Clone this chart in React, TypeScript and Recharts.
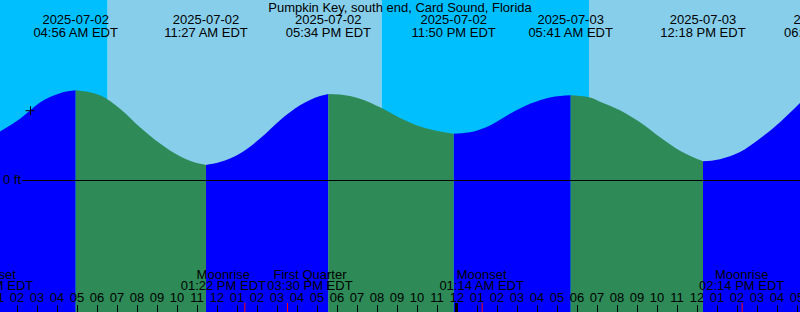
import React from "react";
import {
  ComposedChart,
  Area,
  XAxis,
  YAxis,
  ReferenceArea,
  ReferenceLine,
  ReferenceDot,
} from "recharts";

document.body.style.margin = "0";

const title = "Pumpkin Key, south end, Card Sound, Florida";

// hours counted from 2025-07-02 00:00 EDT
const startHour = 1.15;
const endHour = 41.15;

const tideHours = [
  1.15, 2.15, 3.15, 4.15, 4.933, 6.15, 7.15, 8.15, 9.15, 10.15, 11.15, 11.45,
  12.15, 13.15, 14.15, 15.15, 16.15, 17.15, 17.567, 18.15, 19.15, 20.15, 21.15,
  22.15, 23.15, 23.833, 24.65, 25.65, 26.65, 27.65, 28.65, 29.683, 30.65, 31.15,
  32.15, 33.15, 34.15, 35.15, 36.3, 37.15, 38.15, 39.15, 40.15, 41.15,
];
const tideFeet = [
  0.69, 0.87, 1.1, 1.23, 1.27, 1.2, 1.01, 0.75, 0.52, 0.34, 0.235, 0.22, 0.26,
  0.38, 0.59, 0.85, 1.06, 1.19, 1.22, 1.21, 1.15, 1.03, 0.88, 0.76, 0.69, 0.66,
  0.68, 0.775, 0.94, 1.08, 1.17, 1.2, 1.17, 1.11, 0.99, 0.82, 0.61, 0.42, 0.27,
  0.3, 0.4, 0.59, 0.82, 1.09,
];

const extremeHours = [4.933, 11.45, 17.567, 23.833, 29.683, 36.3, 42.483];
const extremeKinds = ["high", "low", "high", "low", "high", "low", "high"];
const extremeDates = [
  "2025-07-02",
  "2025-07-02",
  "2025-07-02",
  "2025-07-02",
  "2025-07-03",
  "2025-07-03",
  "2025-07-03",
];
const extremeTimes = [
  "04:56 AM EDT",
  "11:27 AM EDT",
  "05:34 PM EDT",
  "11:50 PM EDT",
  "05:41 AM EDT",
  "12:18 PM EDT",
  "06:29 PM EDT",
];

// sunrise, sunset, sunrise
const sunHours = [6.533, 20.233, 30.6];

const moonHours = [0.7, 13.367, 15.5, 25.233, 38.233];
const moonEvents = ["Moonset", "Moonrise", "First Quarter", "Moonset", "Moonrise"];
const moonTimes = [
  "12:42 AM EDT",
  "01:22 PM EDT",
  "03:30 PM EDT",
  "01:14 AM EDT",
  "02:14 PM EDT",
];

const hourTicks = Array.from({ length: 42 }, (_, i) => i + 1);

const nowHour = 2.65;
const nowFeet = 0.99;

// vertical scale: 71 px per foot, 0 ft on row 180
const yMax = 180.5 / 71;
const yMin = -131.5 / 71;
const zeroLineStart = 2.25;
const moonLabelNudge = [0, -21, 23, 0, 0];

const NIGHT = "#00BFFF";
const DAY = "#87CEEB";
const FLOOD = "#0000FF";
const EBB = "#2E8B57";
const FONT = "'Liberation Sans', Arial, sans-serif";

const rows = tideHours.map((t, i) => {
  const ft = tideFeet[i];
  const atExtreme = extremeHours.some((e) => Math.abs(e - t) < 1e-6);
  const next = extremeHours.findIndex((e) => e > t + 1e-6);
  const rising = next >= 0 ? extremeKinds[next] === "high" : false;
  return {
    t,
    flood: rising || atExtreme ? ft : null,
    ebb: !rising || atExtreme ? ft : null,
  };
});

const skyBands = [
  { x1: startHour, x2: sunHours[0], fill: NIGHT },
  { x1: sunHours[0], x2: sunHours[1], fill: DAY },
  { x1: sunHours[1], x2: sunHours[2], fill: NIGHT },
  { x1: sunHours[2], x2: endHour, fill: DAY },
];

const textStyle = { fontFamily: FONT, fontSize: 13, fill: "#000" };

const hourLabel = (h: number) => {
  const v = h % 12 === 0 ? 12 : h % 12;
  return String(v).padStart(2, "0");
};

const hourTick = (h: number) => (p: any) => {
  const x = p.cx;
  return (
    <g>
      {h % 24 === 0 ? (
        <rect x={x - 2} y={303} width={3} height={9} fill="#000" />
      ) : (
        <line x1={x + 0.5} x2={x + 0.5} y1={305} y2={312} stroke="#000" />
      )}
      <text x={x} y={302} textAnchor="middle" style={textStyle}>
        {hourLabel(h)}
      </text>
    </g>
  );
};

const moonTick = (i: number) => (p: any) => {
  const x = p.cx;
  const lx = x + moonLabelNudge[i];
  return (
    <g>
      <line x1={x + 0.5} x2={x + 0.5} y1={303} y2={312} stroke="#FF0000" />
      <text x={lx} y={278.5} textAnchor="middle" style={textStyle}>
        {moonEvents[i]}
      </text>
      <text x={lx} y={290} textAnchor="middle" style={textStyle}>
        {moonTimes[i]}
      </text>
    </g>
  );
};

const extremeLabel = (i: number) => (p: any) => (
  <g>
    <text x={p.cx} y={24} textAnchor="middle" style={textStyle}>
      {extremeDates[i]}
    </text>
    <text x={p.cx} y={37} textAnchor="middle" style={textStyle}>
      {extremeTimes[i]}
    </text>
  </g>
);

export default function App() {
  return (
    <div style={{ width: 800, height: 312 }}>
      <ComposedChart
        width={800}
        height={312}
        data={rows}
        margin={{ top: 0, right: 0, bottom: 0, left: 0 }}
      >
        <XAxis
          dataKey="t"
          type="number"
          domain={[startHour, endHour]}
          allowDataOverflow
          hide
        />
        <YAxis type="number" domain={[yMin, yMax]} allowDataOverflow hide />
        {skyBands.map((b, i) => (
          <ReferenceArea
            key={`sky-${i}`}
            x1={b.x1}
            x2={b.x2}
            fill={b.fill}
            fillOpacity={1}
            stroke="none"
            ifOverflow="visible"
          />
        ))}
        <Area
          dataKey="flood"
          type="monotone"
          baseValue={yMin}
          fill={FLOOD}
          fillOpacity={1}
          stroke="none"
          dot={false}
          activeDot={false}
          connectNulls={false}
          isAnimationActive={false}
        />
        <Area
          dataKey="ebb"
          type="monotone"
          baseValue={yMin}
          fill={EBB}
          fillOpacity={1}
          stroke="none"
          dot={false}
          activeDot={false}
          connectNulls={false}
          isAnimationActive={false}
        />
        <ReferenceLine
          segment={[
            { x: zeroLineStart, y: 0 },
            { x: endHour, y: 0 },
          ]}
          stroke="#000"
          strokeWidth={1}
          ifOverflow="visible"
        />
        <ReferenceDot
          x={startHour}
          y={0}
          r={0}
          ifOverflow="visible"
          shape={(p: any) => (
            <text x={p.cx + 3} y={p.cy + 3.5} style={textStyle}>
              0 ft
            </text>
          )}
        />
        <ReferenceDot
          x={nowHour}
          y={nowFeet}
          r={0}
          ifOverflow="visible"
          shape={(p: any) => (
            <g stroke="#000" strokeWidth={1}>
              <line x1={p.cx - 4.5} x2={p.cx + 4.5} y1={p.cy + 0.5} y2={p.cy + 0.5} />
              <line x1={p.cx + 0.5} x2={p.cx + 0.5} y1={p.cy - 4} y2={p.cy + 5} />
            </g>
          )}
        />
        <ReferenceDot
          x={(startHour + endHour) / 2}
          y={yMax}
          r={0}
          ifOverflow="visible"
          shape={(p: any) => (
            <text x={p.cx} y={12} textAnchor="middle" style={textStyle}>
              {title}
            </text>
          )}
        />
        {extremeHours.map((t, i) => (
          <ReferenceDot
            key={`ext-${i}`}
            x={t}
            y={yMax}
            r={0}
            ifOverflow="visible"
            shape={extremeLabel(i)}
          />
        ))}
        {moonHours.map((t, i) => (
          <ReferenceDot
            key={`moon-${i}`}
            x={t}
            y={yMin}
            r={0}
            ifOverflow="visible"
            shape={moonTick(i)}
          />
        ))}
        {hourTicks.map((h) => (
          <ReferenceDot
            key={`hour-${h}`}
            x={h}
            y={yMin}
            r={0}
            ifOverflow="visible"
            shape={hourTick(h)}
          />
        ))}
      </ComposedChart>
    </div>
  );
}
